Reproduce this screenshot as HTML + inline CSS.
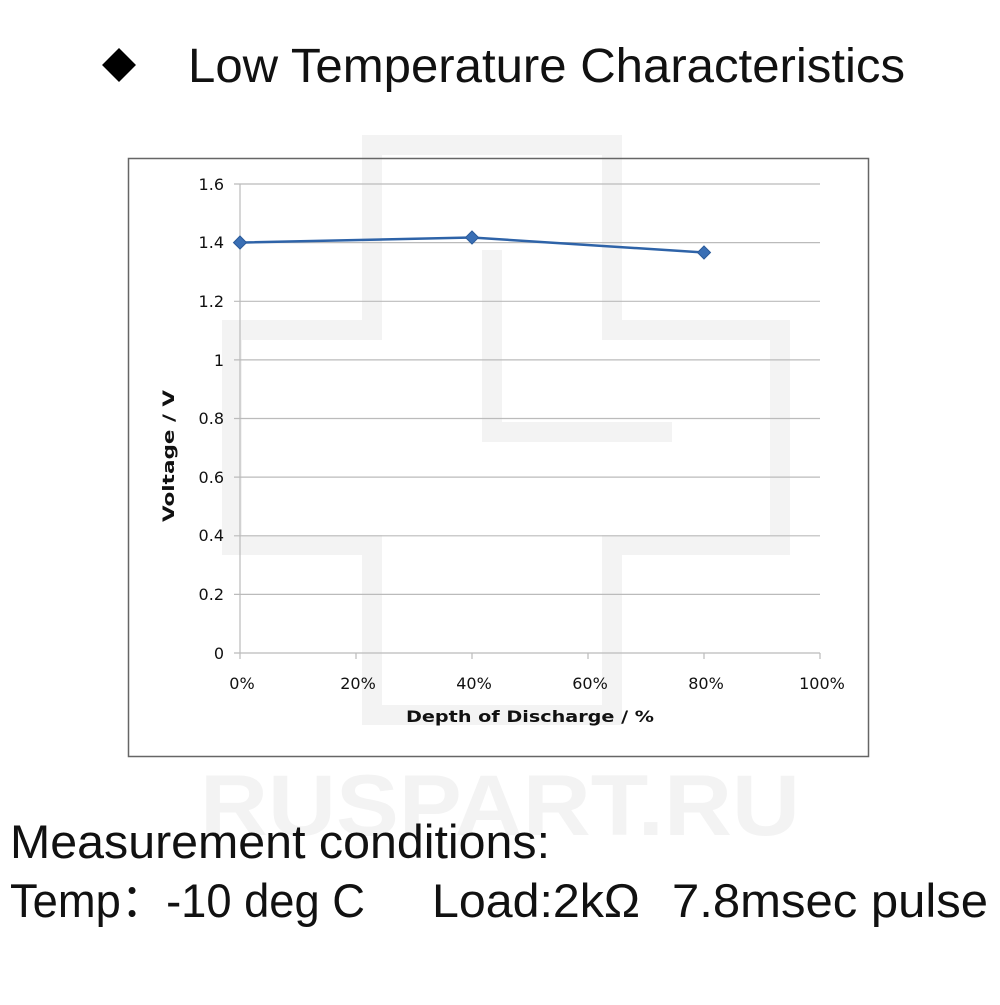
<!DOCTYPE html>
<html><head><meta charset="utf-8"><style>
body{margin:0;background:#fff;width:1000px;height:1000px;overflow:hidden;font-family:"Liberation Sans",sans-serif}
</style></head><body>
<svg width="1000" height="1000" xmlns="http://www.w3.org/2000/svg" font-family="Liberation Sans, sans-serif">
<rect width="1000" height="1000" fill="#fff"/>
<g fill="none" stroke="#f3f3f3" stroke-width="20">
<polygon points="372,145 612,145 612,330 780,330 780,545 612,545 612,715 372,715 372,545 232,545 232,330 372,330"/>
<polyline points="492,250 492,432 672,432"/>
</g>
<text x="200" y="835" font-size="86" font-weight="bold" fill="#f3f3f3" textLength="600" lengthAdjust="spacingAndGlyphs">RUSPART.RU</text>
<rect x="107" y="53" width="24" height="24" transform="rotate(45 119 65)" fill="#000"/>
<text x="188" y="82" font-size="48" fill="#111" textLength="717" lengthAdjust="spacingAndGlyphs">Low Temperature Characteristics</text>
<rect x="128.5" y="158.5" width="740" height="598" fill="none" stroke="#666" stroke-width="1.5"/>
<g stroke="#bbb" stroke-width="1.2">
<line x1="234" y1="184" x2="820" y2="184"/>
<line x1="234" y1="242.6" x2="820" y2="242.6"/>
<line x1="234" y1="301.3" x2="820" y2="301.3"/>
<line x1="234" y1="359.9" x2="820" y2="359.9"/>
<line x1="234" y1="418.5" x2="820" y2="418.5"/>
<line x1="234" y1="477.1" x2="820" y2="477.1"/>
<line x1="234" y1="535.8" x2="820" y2="535.8"/>
<line x1="234" y1="594.4" x2="820" y2="594.4"/>
<line x1="234" y1="653" x2="820" y2="653"/>
<line x1="240" y1="184" x2="240" y2="659"/>
<line x1="356" y1="653" x2="356" y2="659"/>
<line x1="472" y1="653" x2="472" y2="659"/>
<line x1="588" y1="653" x2="588" y2="659"/>
<line x1="704" y1="653" x2="704" y2="659"/>
<line x1="820" y1="653" x2="820" y2="659"/>
</g>
<g font-size="16" fill="#111" text-anchor="end" font-family="DejaVu Sans, sans-serif">
<text x="224" y="190">1.6</text><text x="224" y="248">1.4</text><text x="224" y="307">1.2</text>
<text x="224" y="366">1</text><text x="224" y="424">0.8</text><text x="224" y="483">0.6</text>
<text x="224" y="541">0.4</text><text x="224" y="600">0.2</text><text x="224" y="659">0</text>
</g>
<g font-size="16" fill="#111" text-anchor="middle" font-family="DejaVu Sans, sans-serif">
<text x="242" y="689">0%</text><text x="358" y="689">20%</text><text x="474" y="689">40%</text>
<text x="590" y="689">60%</text><text x="706" y="689">80%</text><text x="822" y="689">100%</text>
</g>
<text x="406" y="722" font-size="16" font-weight="bold" fill="#111" font-family="DejaVu Sans, sans-serif" textLength="248" lengthAdjust="spacingAndGlyphs">Depth of Discharge / %</text>
<text transform="translate(174,522) rotate(-90)" font-size="16" font-weight="bold" fill="#111" font-family="DejaVu Sans, sans-serif" textLength="132" lengthAdjust="spacingAndGlyphs">Voltage  /  V</text>
<polyline points="240,242.6 472,237.5 704,252.5" fill="none" stroke="#2e63a8" stroke-width="2.5"/>
<g fill="#3a6fb5" stroke="#2a5a9a" stroke-width="1">
<polygon points="240,236 246.5,242.6 240,249 233.5,242.6"/>
<polygon points="472,231 478.5,237.5 472,244 465.5,237.5"/>
<polygon points="704,246 710.5,252.5 704,259 697.5,252.5"/>
</g>
<text x="10" y="858" font-size="47" fill="#111" textLength="540" lengthAdjust="spacingAndGlyphs">Measurement conditions:</text>
<text x="10" y="917" font-size="47" fill="#111" textLength="355" lengthAdjust="spacingAndGlyphs">Temp：-10 deg C</text>
<text x="432" y="917" font-size="47" fill="#111" textLength="208" lengthAdjust="spacingAndGlyphs">Load:2kΩ</text>
<text x="672" y="917" font-size="47" fill="#111" textLength="316" lengthAdjust="spacingAndGlyphs">7.8msec pulse</text>
</svg>
</body></html>
